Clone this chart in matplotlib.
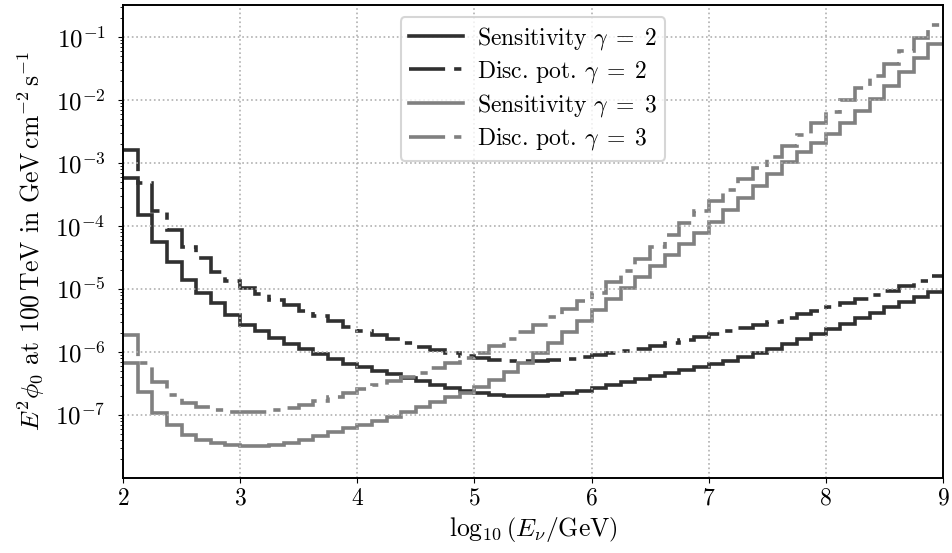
import numpy as np
import matplotlib
matplotlib.use("Agg")
import matplotlib.pyplot as plt
from matplotlib.ticker import LogLocator

plt.rcParams['font.family'] = 'serif'
plt.rcParams['font.serif'] = ['cmr10']
plt.rcParams['mathtext.fontset'] = 'cm'
plt.rcParams['axes.formatter.use_mathtext'] = True

# bin edges in log10(E/GeV)
bin_edges = np.arange(2.0, 9.0001, 0.125)

sens_g2 = [5.8e-4, 1.50e-4, 5.57e-5, 2.69e-5, 1.39e-5, 8.65e-6, 6.0e-6, 3.86e-6,
           2.69e-6, 2.15e-6, 1.67e-6, 1.34e-6, 1.12e-6, 9.3e-7, 7.74e-7, 6.46e-7,
           5.78e-7, 4.99e-7, 4.48e-7, 3.86e-7, 3.47e-7, 2.99e-7, 2.69e-7, 2.40e-7,
           2.24e-7, 2.08e-7, 2.00e-7, 2.00e-7, 2.00e-7, 2.08e-7, 2.24e-7, 2.40e-7,
           2.69e-7, 2.99e-7, 3.34e-7, 3.72e-7, 4.16e-7, 4.64e-7, 5.18e-7, 5.78e-7,
           6.46e-7, 7.2e-7, 8.34e-7, 9.64e-7, 1.12e-6, 1.34e-6, 1.61e-6, 1.93e-6,
           2.32e-6, 2.78e-6, 3.47e-6, 4.16e-6, 5.18e-6, 6.22e-6, 7.46e-6, 8.96e-6]

disc_g2 = [1.61e-3, 4.82e-4, 1.73e-4, 8.65e-5, 4.64e-5, 3.10e-5, 1.86e-5, 1.34e-5,
           1.04e-5, 8.34e-6, 6.68e-6, 5.57e-6, 4.48e-6, 3.72e-6, 3.10e-6, 2.49e-6,
           2.15e-6, 1.86e-6, 1.61e-6, 1.39e-6, 1.20e-6, 1.08e-6, 9.64e-7, 8.65e-7,
           8.03e-7, 7.46e-7, 7.2e-7, 7.2e-7, 7.2e-7, 7.46e-7, 7.74e-7, 8.34e-7,
           8.96e-7, 9.64e-7, 1.04e-6, 1.12e-6, 1.24e-6, 1.39e-6, 1.55e-6, 1.73e-6,
           1.93e-6, 2.15e-6, 2.40e-6, 2.69e-6, 2.99e-6, 3.47e-6, 4.01e-6, 4.48e-6,
           5.18e-6, 6.0e-6, 6.93e-6, 8.03e-6, 9.29e-6, 1.12e-5, 1.34e-5, 1.61e-5]

sens_g3 = [6.68e-7, 2.32e-7, 1.08e-7, 6.93e-8, 4.82e-8, 4.01e-8, 3.6e-8, 3.34e-8,
           3.22e-8, 3.22e-8, 3.34e-8, 3.6e-8, 4.01e-8, 4.64e-8, 5.37e-8, 6.22e-8,
           6.93e-8, 8.03e-8, 9.29e-8, 1.12e-7, 1.34e-7, 1.61e-7, 1.93e-7, 2.24e-7,
           2.78e-7, 3.6e-7, 4.82e-7, 6.68e-7, 9.64e-7, 1.39e-6, 2.08e-6, 3.10e-6,
           4.64e-6, 6.93e-6, 1.04e-5, 1.55e-5, 2.32e-5, 3.47e-5, 5.18e-5, 7.74e-5,
           1.16e-4, 1.79e-4, 2.78e-4, 4.32e-4, 6.68e-4, 1.04e-3, 1.50e-3, 2.08e-3,
           2.88e-3, 4.32e-3, 6.68e-3, 1.04e-2, 1.67e-2, 2.78e-2, 4.64e-2, 7.74e-2]

disc_g3 = [1.86e-6, 6.68e-7, 3.34e-7, 2.08e-7, 1.55e-7, 1.34e-7, 1.20e-7, 1.12e-7,
           1.12e-7, 1.12e-7, 1.20e-7, 1.29e-7, 1.44e-7, 1.67e-7, 1.93e-7, 2.24e-7,
           2.59e-7, 2.99e-7, 3.47e-7, 4.01e-7, 4.64e-7, 5.57e-7, 6.68e-7, 8.03e-7,
           9.64e-7, 1.24e-6, 1.61e-6, 2.08e-6, 2.69e-6, 3.6e-6, 4.82e-6, 6.46e-6,
           8.65e-6, 1.29e-5, 1.93e-5, 2.99e-5, 4.64e-5, 7.2e-5, 1.12e-4, 1.73e-4,
           2.49e-4, 3.72e-4, 5.57e-4, 8.34e-4, 1.24e-3, 1.86e-3, 2.78e-3, 4.32e-3,
           6.46e-3, 1.0e-2, 1.55e-2, 2.40e-2, 3.72e-2, 6.0e-2, 9.64e-2, 1.55e-1]

labels = [r'Sensitivity $\gamma\;=\;2$', r'Disc. pot. $\gamma\;=\;2$',
          r'Sensitivity $\gamma\;=\;3$', r'Disc. pot. $\gamma\;=\;3$']

dark = '#303030'
grey = '#808080'
dashdot = (0, (10, 2.5, 2, 2.5))

fig = plt.figure(figsize=(9.53, 5.53), dpi=100)
ax = fig.add_axes([0.129, 0.136, 0.8605, 0.855])

series = [(sens_g2, dark, '-'), (disc_g2, dark, dashdot),
          (sens_g3, grey, '-'), (disc_g3, grey, dashdot)]
for (vals, col, ls), lab in zip(series, labels):
    ax.stairs(vals, bin_edges, baseline=None, color=col, linestyle=ls,
              linewidth=2.6, label=lab)

ax.set_yscale('log')
ax.set_xlim(2, 9)
ax.set_ylim(1e-8, 3.2e-1)
ax.set_yticks([1e-7, 1e-6, 1e-5, 1e-4, 1e-3, 1e-2, 1e-1])
ax.yaxis.set_minor_locator(LogLocator(base=10, subs=np.arange(2, 10), numticks=30))
ax.grid(True, which='major', linestyle=':', color='#b0b0b0', linewidth=1.2)
ax.tick_params(axis='x', labelsize=17)
ax.tick_params(axis='y', labelsize=18, pad=9)
for s in ax.spines.values():
    s.set_linewidth(1.4)

ax.set_xlabel(r'$\log_{10}\left(E_\nu/\mathrm{GeV}\right)$', fontsize=18.5)
ax.set_ylabel(r'$E^2\phi_0$ at $100\,\mathrm{TeV}$ in $\mathrm{GeV}\,\mathrm{cm}^{-2}\,\mathrm{s}^{-1}$',
              fontsize=18.5, labelpad=6)

leg = ax.legend(loc='upper center', fontsize=17, framealpha=0.8,
                handlelength=2.3, borderpad=0.35, labelspacing=0.3,
                handletextpad=0.6)
leg.get_frame().set_linewidth(1.5)

fig.savefig('out.png', dpi=100)
